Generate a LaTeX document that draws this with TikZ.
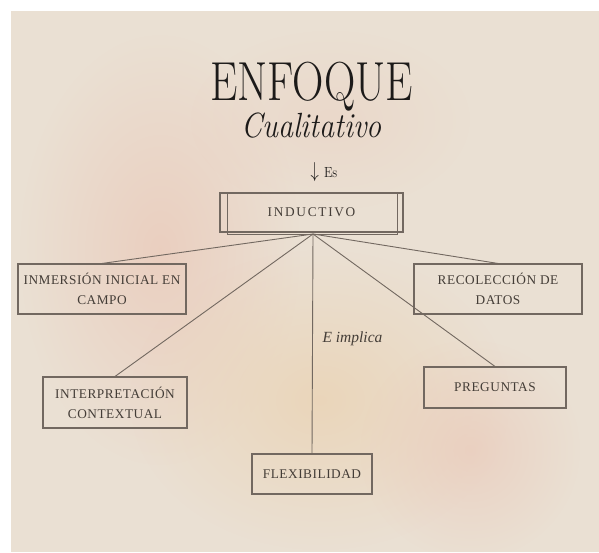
\documentclass[tikz,border=0pt]{standalone}
\usepackage{fontspec}
\usetikzlibrary{fadings,calc}

\newfontfamily\boxfont{Liberation Serif}[LetterSpace=4]
\newfontfamily\wideboxfont{Liberation Serif}[LetterSpace=13]
\newfontfamily\notefont{Liberation Serif}

\definecolor{paper}{HTML}{EAE0D3}
\definecolor{blush}{HTML}{EAC9B9}
\definecolor{warm}{HTML}{EBD3B4}
\definecolor{ink}{HTML}{1C1A19}
\definecolor{boxtext}{HTML}{443D37}
\definecolor{rule}{HTML}{726860}

\tikzfading[name=softspot, inner color=transparent!0, outer color=transparent!100]

\tikzset{
  conceptbox/.style={draw=rule, line width=1.1pt, text=boxtext, align=center,
    inner sep=0pt, font=\boxfont\fontsize{13.3}{20}\selectfont},
  link/.style={draw=rule, line width=0.9pt},
  blob/.style={path fading=softspot}
}

\begin{document}
\begin{tikzpicture}[x=1pt,y=-1pt]
  % canvas: thin white margin on the top and left, warm paper elsewhere
  \fill[white] (0,0) rectangle (599,552);
  \fill[paper] (11,11) rectangle (599,552);
  \useasboundingbox (0,0) rectangle (599,552);

  % soft tinted patches on the paper
  \fill[blush, blob, opacity=0.75] (160,250) ellipse [x radius=140, y radius=215];
  \fill[warm, blob, opacity=0.8] (320,400) ellipse [x radius=190, y radius=150];
  \fill[blush, blob, opacity=0.65] (470,450) ellipse [x radius=110, y radius=110];
  \fill[blush, blob, opacity=0.35] (330,120) ellipse [x radius=140, y radius=90];

  % heading
  \node[anchor=base, text=ink, font=\fontsize{55}{60}\selectfont] (title) at (311.5,100)
    {\scalebox{0.79}[1]{ENFOQUE}};
  \node[anchor=base, text=ink, font=\fontsize{35}{38}\selectfont\itshape] (subtitle) at (311.5,137)
    {\scalebox{0.86}[1]{Cualitativo}};
  \node[anchor=base, text=ink, font=\fontsize{14}{16}\selectfont] (es) at (324,177)
    {\scalebox{1.15}[1.5]{$\downarrow$}\hspace{5pt}\scalebox{0.9}[1.05]{Es}};

  % central concept with a doubled frame
  \node[conceptbox, minimum width=183pt, minimum height=39pt,
    font=\wideboxfont\fontsize{13.3}{20}\selectfont]
    (ind) at (311.5,212.5) {INDUCTIVO};
  \draw[rule, line width=1.1pt] ($(ind.north west)+(8,1)$) rectangle ($(ind.south east)+(-6,2)$);
  \coordinate (hub) at (313,234);

  % branches
  \node[conceptbox, minimum width=168pt, minimum height=50pt] (inm) at (102,289)
    {INMERSIÓN INICIAL EN\\CAMPO};
  \node[conceptbox, minimum width=168pt, minimum height=50pt] (rec) at (498,289)
    {RECOLECCIÓN DE\\DATOS};
  \node[conceptbox, minimum width=144pt, minimum height=51pt] (int) at (115,402.5)
    {INTERPRETACIÓN\\CONTEXTUAL};
  \node[conceptbox, minimum width=142pt, minimum height=41pt] (pre) at (495,387.5)
    {PREGUNTAS};
  \node[conceptbox, minimum width=120pt, minimum height=40pt] (flx) at (312,474)
    {FLEXIBILIDAD};

  \draw[link] (hub) -- (inm.north);
  \draw[link] (hub) -- (rec.north);
  \draw[link] (hub) -- (int.north);
  \draw[link] (hub) -- (pre.north);
  \draw[link] (hub) -- (flx.north);

  \node[anchor=base west, text=boxtext, font=\notefont\fontsize{15.5}{17}\selectfont\itshape] (impl) at (319,342)
    {E implica};
\end{tikzpicture}
\end{document}
